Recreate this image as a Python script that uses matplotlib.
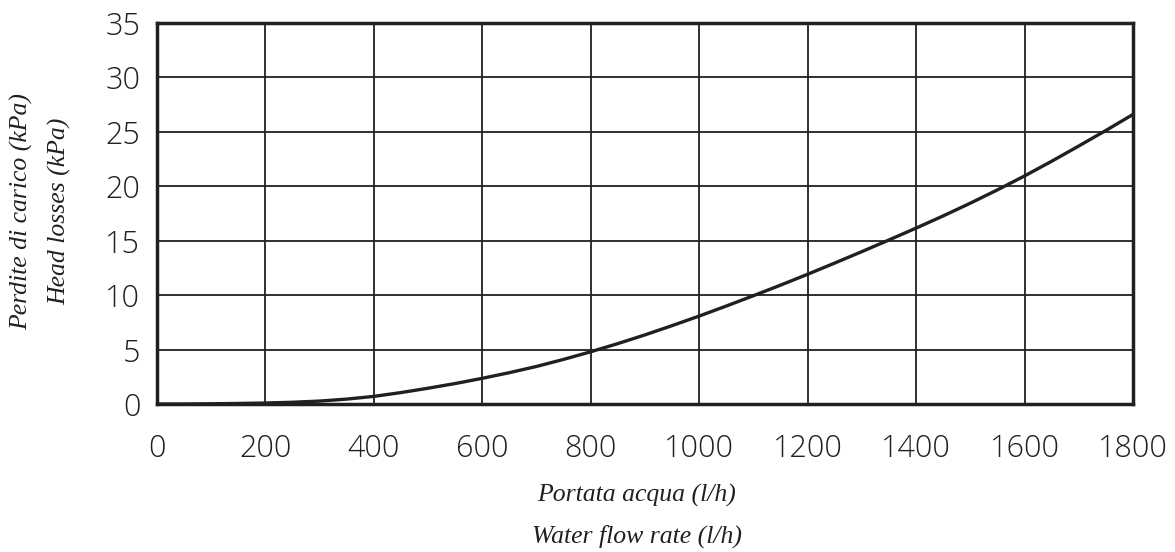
import numpy as np
import matplotlib.pyplot as plt

# flow rate (l/h) vs head losses (kPa)
portata = [0, 50, 100, 150, 200, 250, 300, 350, 400, 450, 500, 550, 600, 650, 700, 750, 800, 850, 900,
           950, 1000, 1050, 1100, 1150, 1200, 1250, 1300, 1350, 1400, 1450, 1500, 1550, 1600, 1650, 1700,
           1750, 1800]
perdite = [0, 0.0, 0.02, 0.05, 0.09, 0.16, 0.27, 0.45, 0.7, 1.05, 1.45, 1.88, 2.36, 2.88, 3.45, 4.1, 4.8,
           5.55, 6.35, 7.2, 8.08, 9.0, 9.95, 10.92, 11.92, 12.95, 14.0, 15.07, 16.16, 17.28, 18.45, 19.67,
           20.95, 22.3, 23.7, 25.13, 26.6]

x_ticks = [0, 200, 400, 600, 800, 1000, 1200, 1400, 1600, 1800]
y_ticks = [0, 5, 10, 15, 20, 25, 30, 35]

ink = "#231f20"

fig = plt.figure(figsize=(11.75, 5.52), dpi=100)
ax = fig.add_axes([157 / 1175, 1 - 404 / 552, (1133 - 157) / 1175, (404 - 23) / 552])

ax.plot(portata, perdite, color=ink, lw=2.4, solid_joinstyle="round")

ax.set_xlim(0, 1800)
ax.set_ylim(0, 35)
ax.set_xticks(x_ticks)
ax.set_yticks(y_ticks)
ax.grid(True, color=ink, lw=1.3)
ax.set_axisbelow(True)
for s in ax.spines.values():
    s.set_color(ink)
    s.set_linewidth(2.5)

ax.tick_params(length=0, labelsize=22, labelcolor=ink)
ax.tick_params(axis="x", pad=21)
ax.tick_params(axis="y", pad=12)
for lab in ax.get_xticklabels() + ax.get_yticklabels():
    lab.set_family("Open Sans")
    lab.set_fontweight(300)

serif = dict(family="Liberation Serif", style="italic", fontsize=18.5, color=ink, ha="center", va="center")
fig.text(637 / 1175, 1 - 495 / 552, "Portata acqua (l/h)", **serif)
fig.text(637 / 1175, 1 - 536 / 552, "Water flow rate (l/h)", **serif)
fig.text(22 / 1175, 1 - 212 / 552, "Perdite di carico (kPa)", rotation=90, **serif)
fig.text(60 / 1175, 1 - 211 / 552, "Head losses (kPa)", rotation=90, **serif)

fig.savefig("out.png", dpi=100)
